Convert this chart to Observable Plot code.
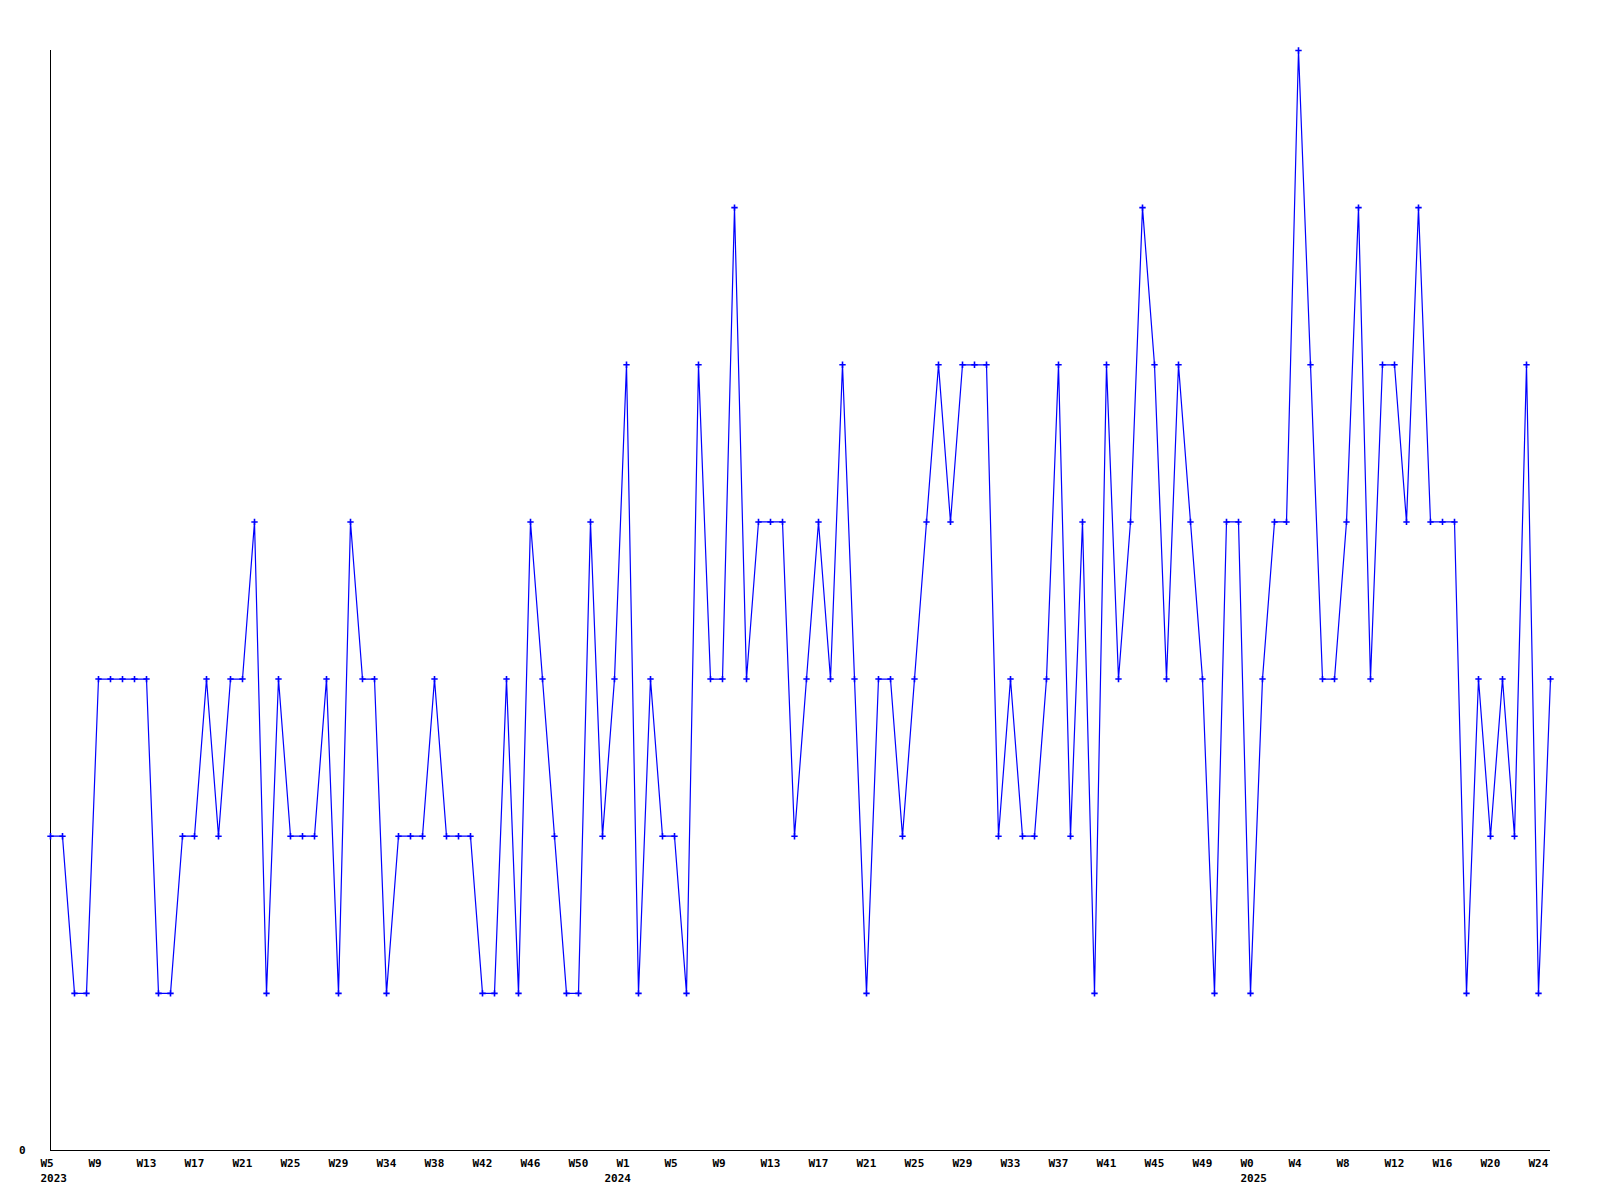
<!DOCTYPE html>
<html>
<head>
<meta charset="utf-8">
<script src="https://cdn.jsdelivr.net/npm/d3@7"></script>
<script src="https://cdn.jsdelivr.net/npm/@observablehq/plot@0.6"></script>
<style>
  html, body { margin: 0; padding: 0; background: #fff; }
</style>
</head>
<body>
<div id="chart"></div>
<script>
// Weekly values, one per week (2023 W5 .. 2025 W25)
const values = [
  2, 2, 1, 1, 3, 3, 3, 3, 3, 1,
  1, 2, 2, 3, 2, 3, 3, 4, 1, 3,
  2, 2, 2, 3, 1, 4, 3, 3, 1, 2,
  2, 2, 3, 2, 2, 2, 1, 1, 3, 1,
  4, 3, 2, 1, 1, 4, 2, 3, 5, 1,
  3, 2, 2, 1, 5, 3, 3, 6, 3, 4,
  4, 4, 2, 3, 4, 3, 5, 3, 1, 3,
  3, 2, 3, 4, 5, 4, 5, 5, 5, 2,
  3, 2, 2, 3, 5, 2, 4, 1, 5, 3,
  4, 6, 5, 3, 5, 4, 3, 1, 4, 4,
  1, 3, 4, 4, 7, 5, 3, 3, 4, 6,
  3, 5, 5, 4, 6, 4, 4, 4, 1, 3,
  2, 3, 2, 5, 1, 3
];

// Tick labels, one every 4th week
const tickWeeks = [
  "W5", "W9", "W13", "W17", "W21", "W25", "W29", "W34", "W38", "W42", "W46", "W50",
  "W1", "W5", "W9", "W13", "W17", "W21", "W25", "W29", "W33", "W37", "W41", "W45", "W49",
  "W0", "W4", "W8", "W12", "W16", "W20", "W24"
];
const tickStep = 4;

// Year labels and the week index where each year starts
const years = ["2023", "2024", "2025"];
const yearStartIndex = [0, 47, 100];

const data = values.map((v, i) => ({i, v}));
const ticks = tickWeeks.map((_, k) => k * tickStep);
const yearRows = years.map((y, k) => ({year: y, i: yearStartIndex[k]}));

const chart = Plot.plot({
  width: 1600,
  height: 1200,
  marginLeft: 50,
  marginRight: 50,
  marginTop: 50,
  marginBottom: 50,
  x: {domain: [0, values.length - 1]},
  y: {domain: [0, 7]},
  style: {
    fontFamily: "'DejaVu Sans Mono', monospace",
    fontSize: "11px",
    fontWeight: "bold",
    background: "#ffffff",
    color: "#000000"
  },
  marks: [
    Plot.axisY({ticks: [0], tickSize: 0, tickPadding: 25, tickFormat: d => String(d), label: null}),
    Plot.axisX({
      ticks,
      tickSize: 0,
      tickPadding: 9,
      textAnchor: "start",
      dx: -10,
      tickFormat: d => tickWeeks[d / tickStep],
      label: null
    }),
    Plot.text(yearRows, {
      x: "i",
      text: "year",
      frameAnchor: "bottom",
      dy: 31,
      dx: -10,
      textAnchor: "start"
    }),
    Plot.ruleY([0], {stroke: "#000", strokeWidth: 1}),
    Plot.ruleX([0], {stroke: "#000", strokeWidth: 1}),
    Plot.line(data, {x: "i", y: "v", stroke: "#0000ff", strokeWidth: 1.2}),
    Plot.dot(data, {x: "i", y: "v", symbol: "plus", r: 2.2, stroke: "#0000ff", strokeWidth: 1.6})
  ]
});

document.getElementById("chart").appendChild(chart);
</script>
</body>
</html>
